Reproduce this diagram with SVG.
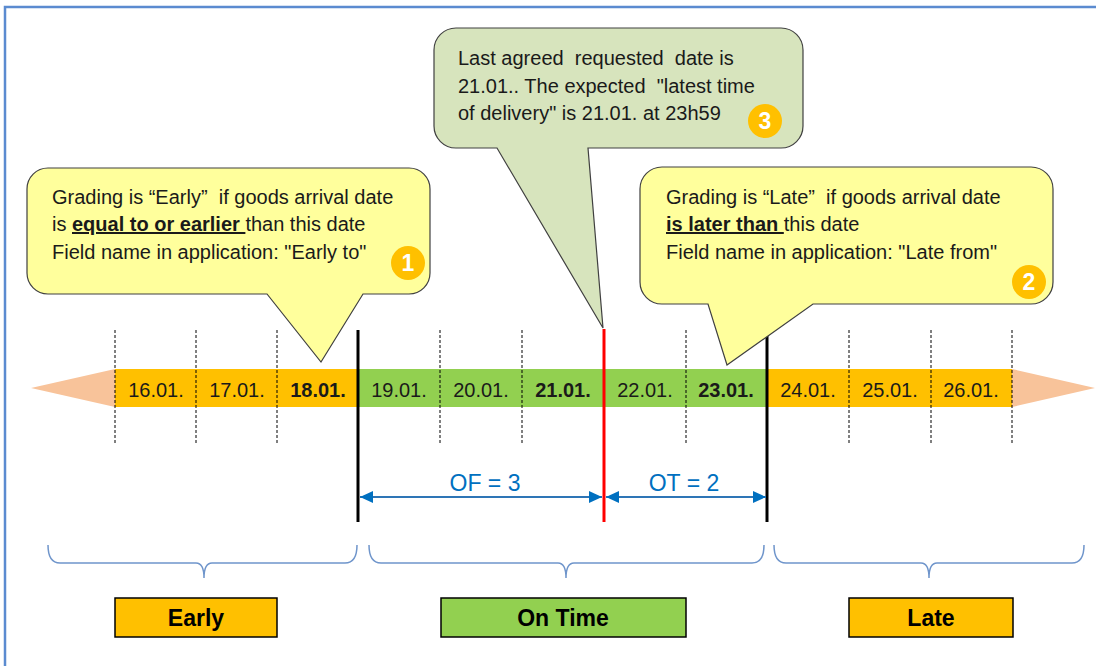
<svg xmlns="http://www.w3.org/2000/svg" width="1096" height="666" viewBox="0 0 1096 666">
<defs>
<style>
.t{font-family:"Liberation Sans",Arial,sans-serif;fill:#1a1a1a}
.ct{font-size:20px}
.dt{font-size:20px;text-anchor:middle}
.b{font-weight:bold}
.u{font-weight:bold;text-decoration:underline}
.dash{stroke:#000;stroke-width:1;stroke-dasharray:3,2}
.call{stroke:#404040;stroke-width:1.2}
.badge{fill:#FFC000}
.bt{font-family:"Liberation Sans",Arial,sans-serif;font-size:23px;font-weight:bold;fill:#fff;text-anchor:middle}
.brace{fill:none;stroke:#6F95CB;stroke-width:1.5}
.lab{stroke:#000;stroke-width:1.5}
.lt{font-family:"Liberation Sans",Arial,sans-serif;font-size:23px;font-weight:bold;fill:#000;text-anchor:middle}
.meas{stroke:#2E75B6;stroke-width:1.8}
.mt{font-family:"Liberation Sans",Arial,sans-serif;font-size:23px;fill:#0070C0;text-anchor:middle}
</style>
<marker id="ah" viewBox="0 0 10 10" refX="10" refY="5" markerWidth="13" markerHeight="12" orient="auto-start-reverse" markerUnits="userSpaceOnUse" preserveAspectRatio="none">
<path d="M0,0 L10,5 L0,10 Z" fill="#0070C0"/>
</marker>
</defs>
<rect width="1096" height="666" fill="#fff"/>
<g id="frame" fill="none" stroke="#5B8BD0" stroke-width="2.5">
<path d="M5,666 V7 H1096"/>
</g>
<g id="timeline">
<polygon points="31,388 115,369 115,407" fill="#F8C39A"/>
<polygon points="1095,388 1012,369 1012,407" fill="#F8C39A"/>
<rect x="115" y="369" width="243" height="38" fill="#FFC000"/>
<rect x="358" y="369" width="409" height="38" fill="#92D050"/>
<rect x="767" y="369" width="245" height="38" fill="#FFC000"/>
<g class="t dt">
<text x="156" y="397">16.01.</text>
<text x="237" y="397">17.01.</text>
<text x="318" y="397" class="b">18.01.</text>
<text x="399" y="397">19.01.</text>
<text x="481" y="397">20.01.</text>
<text x="563" y="397" class="b">21.01.</text>
<text x="645" y="397">22.01.</text>
<text x="726" y="397" class="b">23.01.</text>
<text x="808" y="397">24.01.</text>
<text x="890" y="397">25.01.</text>
<text x="971" y="397">26.01.</text>
</g>
</g>
<g id="connectors">
<line class="dash" x1="115" y1="330" x2="115" y2="445"/>
<line class="dash" x1="196" y1="330" x2="196" y2="445"/>
<line class="dash" x1="277" y1="330" x2="277" y2="445"/>
<line class="dash" x1="440" y1="330" x2="440" y2="445"/>
<line class="dash" x1="522" y1="330" x2="522" y2="445"/>
<line class="dash" x1="686" y1="330" x2="686" y2="445"/>
<line class="dash" x1="849" y1="330" x2="849" y2="445"/>
<line class="dash" x1="931" y1="330" x2="931" y2="445"/>
<line class="dash" x1="1012" y1="330" x2="1012" y2="445"/>
<line x1="358" y1="330" x2="358" y2="522" stroke="#000" stroke-width="3"/>
<line x1="767" y1="330" x2="767" y2="522" stroke="#000" stroke-width="3"/>
<line x1="604" y1="329" x2="604" y2="522" stroke="#FF0000" stroke-width="3"/>
<line class="meas" x1="360" y1="497" x2="602" y2="497" marker-start="url(#ah)" marker-end="url(#ah)"/>
<line class="meas" x1="606" y1="497" x2="766" y2="497" marker-start="url(#ah)" marker-end="url(#ah)"/>
<text class="mt" x="485" y="491">OF = 3</text>
<text class="mt" x="684" y="491">OT = 2</text>
<path class="brace" d="M48,545 Q48,563 60,563 H196 Q204,563 204,578 Q204,563 212,563 H345 Q357,563 357,545"/>
<path class="brace" d="M369,545 Q369,563 381,563 H558 Q566,563 566,578 Q566,563 574,563 H752 Q764,563 764,545"/>
<path class="brace" d="M774,545 Q774,563 786,563 H921 Q929,563 929,578 Q929,563 937,563 H1072 Q1084,563 1084,545"/>
</g>
<g id="callout1">
<path class="call" fill="#FFFF9C" d="M48,168 H409 A21,21 0 0 1 430,189 V273 A21,21 0 0 1 409,294 H363 L321,362 L267,294 H48 A21,21 0 0 1 27,273 V189 A21,21 0 0 1 48,168 Z"/>
<text class="t ct" x="52" y="204" xml:space="preserve">Grading is “Early”  if goods arrival date</text>
<text class="t ct" x="52" y="231" xml:space="preserve">is <tspan class="u">equal to or earlier </tspan>than this date</text>
<text class="t ct" x="52" y="259" xml:space="preserve">Field name in application: "Early to"</text>
<circle class="badge" cx="408" cy="263" r="17"/>
<text class="bt" x="408" y="271">1</text>
</g>
<g id="callout2">
<path class="call" fill="#FFFF9C" d="M662,167 H1031 A22,22 0 0 1 1053,189 V282 A22,22 0 0 1 1031,304 H813 L727,365 L708,304 H662 A22,22 0 0 1 640,282 V189 A22,22 0 0 1 662,167 Z"/>
<text class="t ct" x="666" y="204" xml:space="preserve">Grading is “Late”  if goods arrival date</text>
<text class="t ct" x="666" y="231" xml:space="preserve"><tspan class="u">is later than </tspan>this date</text>
<text class="t ct" x="666" y="259" xml:space="preserve">Field name in application: "Late from"</text>
<circle class="badge" cx="1029" cy="282" r="17"/>
<text class="bt" x="1029" y="290">2</text>
</g>
<g id="callout3">
<path class="call" fill="#D7E4BD" d="M456,28 H781 A22,22 0 0 1 803,50 V126 A22,22 0 0 1 781,148 H588 L603,328 L497,148 H456 A22,22 0 0 1 434,126 V50 A22,22 0 0 1 456,28 Z"/>
<text class="t ct" x="458" y="65" xml:space="preserve">Last agreed  requested  date is</text>
<text class="t ct" x="458" y="93" xml:space="preserve">21.01.. The expected  "latest time</text>
<text class="t ct" x="458" y="120" xml:space="preserve">of delivery" is 21.01. at 23h59</text>
<circle class="badge" cx="765" cy="121" r="17"/>
<text class="bt" x="765" y="129">3</text>
</g>
<g id="label-early">
<rect class="lab" x="115" y="598" width="162" height="39" fill="#FFC000"/>
<text class="lt" x="196" y="626">Early</text>
</g>
<g id="label-ontime">
<rect class="lab" x="441" y="598" width="245" height="39" fill="#92D050"/>
<text class="lt" x="563" y="626">On Time</text>
</g>
<g id="label-late">
<rect class="lab" x="849" y="598" width="164" height="39" fill="#FFC000"/>
<text class="lt" x="931" y="626">Late</text>
</g>
</svg>
